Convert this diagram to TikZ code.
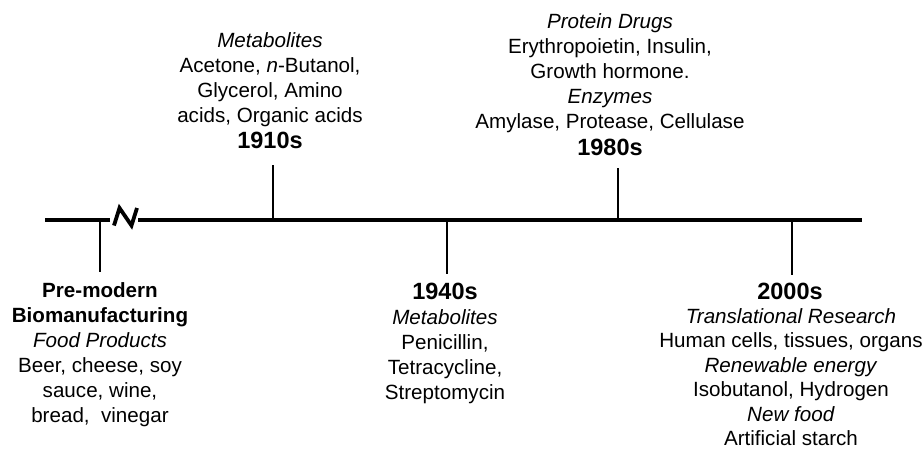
\documentclass[tikz,border=0pt]{standalone}
\usepackage{fontspec}
\setmainfont{Liberation Sans}
\usetikzlibrary{calc}

\begin{document}
\begin{tikzpicture}[x=1pt,y=1pt,
    axis/.style={line width=3.2pt},
    tick/.style={line width=1.5pt},
    txt/.style={align=center, inner sep=0pt, font=\fontsize{20.6}{25}\selectfont},
    yr/.style={inner sep=0pt, font=\fontsize{23.5}{25}\selectfont\bfseries}]
  \useasboundingbox (0,0) rectangle (923,-450);
  % time axis, broken near the start
  \coordinate (start) at (45,-220);
  \coordinate (brk1) at (110,-220);
  \coordinate (brk2) at (138,-220);
  \coordinate (stop) at (862,-220);
  \draw[axis] (start) -- (brk1);
  \draw[axis, line width=3.8pt, line join=miter] (114,-225.5) -- (119.5,-208) -- (131.5,-225.5) -- (137,-208);
  \draw[axis] (brk2) -- (stop);
  \coordinate (a0) at (100,-220);
  \coordinate (a1910) at (273,-220);
  \coordinate (a1940) at (447,-220);
  \coordinate (a1980) at (618,-220);
  \coordinate (a2000) at (792,-220);
  % eras
  \node[txt, anchor=north] (e0) at (100,-282) {\textbf{Pre-modern}\\\textbf{Biomanufacturing}\\\textit{Food Products}\\Beer, cheese, soy\\sauce, wine,\\bread,~ vinegar};
  \node[yr, anchor=base] (y1910) at (270,-148) {1910s};
  \node[txt, anchor=north] (d1910) at (270,-32) {\textit{Metabolites}\\Acetone, \textit{n}-Butanol,\\Glycerol, Amino\\acids, Organic acids};
  \node[yr, anchor=base] (y1940) at (445,-299) {1940s};
  \node[txt, anchor=north] (d1940) at (445,-309) {\textit{Metabolites}\\Penicillin,\\Tetracycline,\\Streptomycin};
  \node[yr, anchor=base] (y1980) at (610,-155) {1980s};
  \node[txt, anchor=north] (d1980) at (610,-13) {\textit{Protein Drugs}\\Erythropoietin, Insulin,\\Growth hormone.\\\textit{Enzymes}\\Amylase, Protease, Cellulase};
  \node[yr, anchor=base] (y2000) at (790,-299) {2000s};
  \node[txt, anchor=north, font=\fontsize{20.6}{24.5}\selectfont] (d2000) at (791,-308) {\textit{Translational Research}\\Human cells, tissues, organs\\\textit{Renewable energy}\\Isobutanol, Hydrogen\\\textit{New food}\\Artificial starch};
  % ticks
  \draw[tick, shorten >=10pt] (a0) -- (a0 |- e0.north);
  \draw[tick, shorten >=17pt] (a1910) -- (a1910 |- y1910.south);
  \draw[tick, shorten >=8pt] (a1940) -- (a1940 |- y1940.north);
  \draw[tick, shorten >=13pt] (a1980) -- (a1980 |- y1980.south);
  \draw[tick, shorten >=7pt] (a2000) -- (a2000 |- y2000.north);
\end{tikzpicture}
\end{document}
